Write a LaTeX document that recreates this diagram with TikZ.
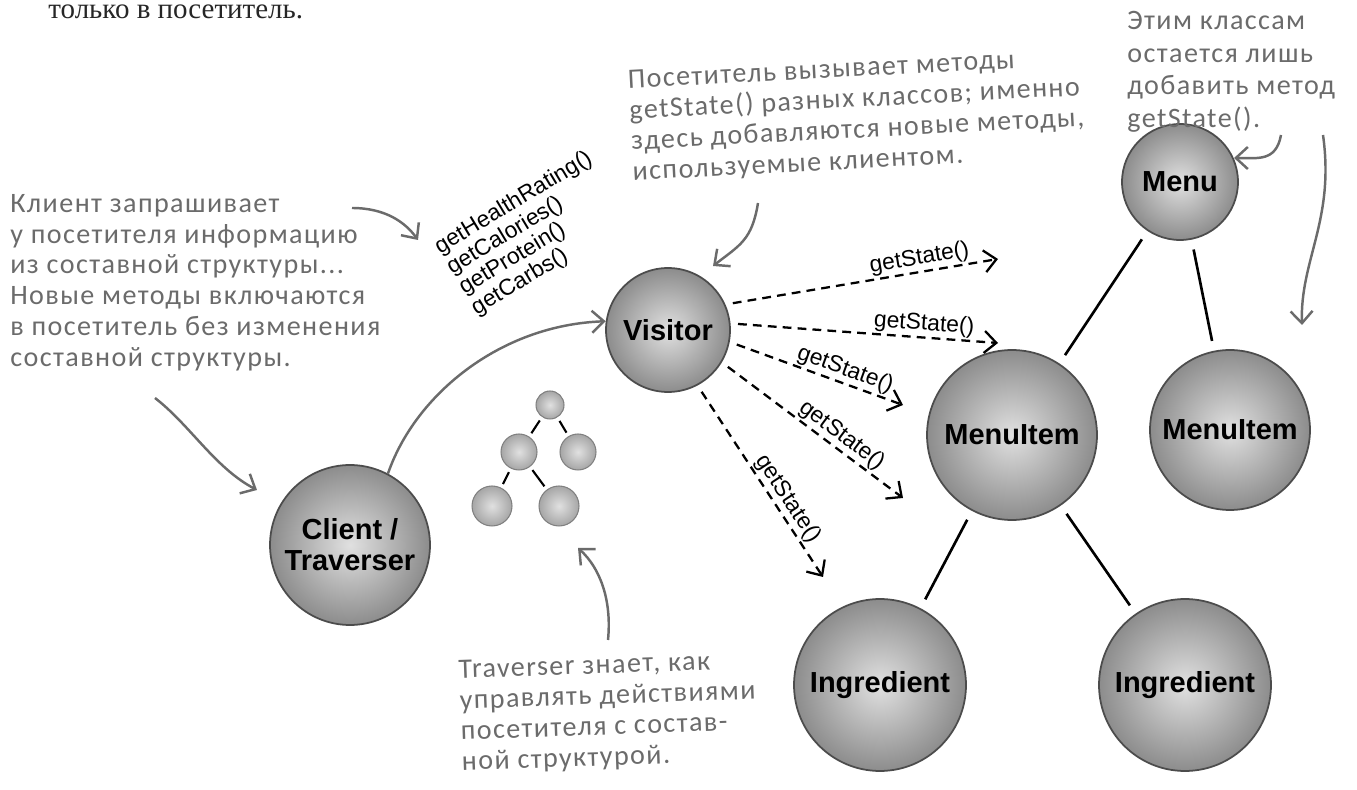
\documentclass[tikz,border=0pt]{standalone}
\usepackage{fontspec}
\setmainfont{Liberation Serif}
\newfontfamily\handfont[LetterSpace=5]{Carlito}
\newfontfamily\arialfont{Liberation Sans}
\usetikzlibrary{arrows.meta}
\definecolor{pen}{gray}{0.42}

\begin{document}
\begin{tikzpicture}[x=0.02cm, y=-0.02cm,
ball/.style={circle, draw=black!70, line width=1pt, inner color=black!12,
             outer color=black!45, align=center, inner sep=0pt,
             font=\arialfont\bfseries\fontsize{16.5}{17.5}\selectfont},
minib/.style={circle, draw=black!50, line width=0.6pt, inner color=black!12,
              outer color=black!35, inner sep=0pt},
note/.style={align=left, inner sep=0pt, text=pen,
             font=\handfont\fontsize{16}{17.5}\selectfont},
hand/.style={draw=pen, line width=1.4pt,
             -{Straight Barb[length=2.4mm, width=4.4mm]}},
call/.style={draw=black, line width=1.3pt, dash pattern=on 5pt off 3.5pt,
             shorten <=1.5mm, -{Straight Barb[length=2.4mm, width=4.4mm]}},
link/.style={draw=black, line width=1.5pt, shorten <=2mm, shorten >=2mm},
minilink/.style={draw=black, line width=1.2pt, shorten <=0.8mm, shorten >=0.8mm},
meth/.style={font=\arialfont\fontsize{13}{13.5}\selectfont, inner sep=0pt}
]
\useasboundingbox (0,0) rectangle (1357,790);

% header line from the page
\node[anchor=base west, inner sep=0pt, text=black!85,
      font=\fontsize{16.5}{18}\selectfont] (header) at (48,19) {только в посетитель.};

% balls
\node[ball, minimum size=3.2cm] (client) at (350,545) {Client /\\Traverser};
\node[ball, minimum size=2.48cm] (visitor) at (668,330) {Visitor};
\node[ball, minimum size=2.32cm] (menu) at (1180,182) {Menu};
\node[ball, minimum size=3.4cm] (itemL) at (1012,435) {MenuItem};
\node[ball, minimum size=3.2cm] (itemR) at (1230,430) {MenuItem};
\node[ball, minimum size=3.44cm] (ingL) at (880,685) {Ingredient};
\node[ball, minimum size=3.44cm] (ingR) at (1185,685) {Ingredient};

\draw[link] (menu) -- (itemL);
\draw[link] (menu) -- (itemR);
\draw[link] (itemL) -- (ingL);
\draw[link] (itemL) -- (ingR);

% small tree
\node[minib, minimum size=0.56cm] (tA) at (550,405) {};
\node[minib, minimum size=0.72cm] (tB) at (519,452) {};
\node[minib, minimum size=0.72cm] (tC) at (578,452) {};
\node[minib, minimum size=0.8cm] (tD) at (492,506) {};
\node[minib, minimum size=0.8cm] (tE) at (559,506) {};
\draw[minilink] (tA) -- (tB);
\draw[minilink] (tA) -- (tC);
\draw[minilink] (tB) -- (tD);
\draw[minilink] (tB) -- (tE);

% methods asked by the client
\node[meth, rotate=31, anchor=north west, align=left] (methods) at (431,240)
{getHealthRating()\\getCalories()\\getProtein()\\getCarbs()};

% notes
\node[note, anchor=north west] (noteClient) at (10,194)
{Клиент запрашивает\\у посетителя информацию\\из составной структуры...\\Новые методы включаются\\в посетитель без изменения\\составной структуры.};
\node[note, rotate=3, anchor=north west] (noteVisitor) at (627,70)
{Посетитель вызывает методы\\getState() разных классов; именно\\здесь добавляются новые методы,\\используемые клиентом.};
\node[note, anchor=north west, font=\handfont\fontsize{16}{18.5}\selectfont] (noteClasses) at (1127,11)
{Этим классам\\остается лишь\\добавить метод\\getState().};
\node[note, rotate=2, anchor=north west] (noteTrav) at (458,660)
{Traverser знает, как\\управлять действиями\\посетителя с состав-\\ной структурой.};

% getState() calls
\coordinate (s1) at (998,259);
\coordinate (s2) at (998,343);
\coordinate (s3) at (903,405);
\coordinate (s4) at (903,498);
\coordinate (s5) at (823,577);
\draw[call] (visitor.24) -- node[meth, pos=0.72, sloped, above=1pt] {getState()} (s1);
\draw[call] (visitor.6) -- node[meth, pos=0.72, sloped, above=1pt] {getState()} (s2);
\draw[call] (visitor.-11) -- node[meth, pos=0.64, sloped, above=1pt] {getState()} (s3);
\draw[call] (visitor.-31) -- node[meth, pos=0.62, sloped, above=1pt] {getState()} (s4);
\draw[call] (visitor.-62) -- node[meth, pos=0.63, sloped, above=1pt] {getState()} (s5);

% hand-drawn pointers
\coordinate (aS) at (352,208);
\coordinate (aE) at (418,240);
\coordinate (bS) at (155,398);
\coordinate (bE) at (257,490);
\coordinate (dS) at (758,203);
\coordinate (dE) at (713,266);
\coordinate (eS) at (608,640);
\coordinate (eE) at (578,548);
\coordinate (fS) at (1281,135);
\coordinate (fE) at (1234,158);
\coordinate (gS) at (1323,135);
\coordinate (gE) at (1302,325);
\draw[hand] (aS) .. controls (385,208) and (405,222) .. (aE);
\draw[hand] (bS) .. controls (190,425) and (215,468) .. (bE);
\draw[hand] (client.62) .. controls (415,395) and (500,325) .. (visitor.172);
\draw[hand] (dS) .. controls (752,240) and (740,245) .. (dE);
\draw[hand] (eS) .. controls (612,600) and (600,568) .. (eE);
\draw[hand] (fS) .. controls (1276,162) and (1258,158) .. (fE);
\draw[hand] (gS) .. controls (1335,220) and (1300,260) .. (gE);
\end{tikzpicture}
\end{document}
